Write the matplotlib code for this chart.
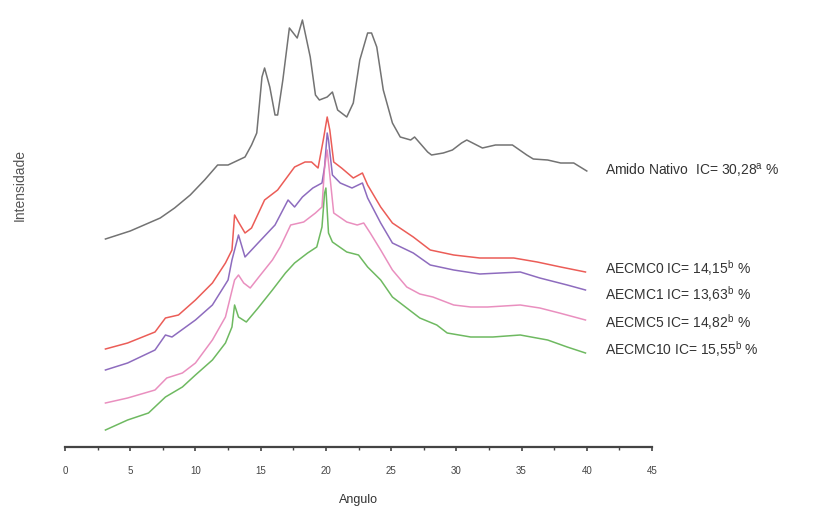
import matplotlib.pyplot as plt
import numpy as np

# angulo (2 theta) e intensidade (unidades arbitrarias)
nativo_x = [3.1, 5.0, 7.3, 8.4, 9.6, 10.7, 11.7, 12.5, 13.8, 14.3, 14.7, 15.1, 15.3, 15.7,
            16.1, 16.3, 16.7, 17.2, 17.8, 18.2, 18.8, 19.2, 19.5, 20.1, 20.5, 20.9, 21.6,
            22.1, 22.6, 23.2, 23.5, 23.9, 24.4, 25.1, 25.7, 26.5, 26.8, 27.8, 28.1, 29.0,
            29.7, 30.4, 30.8, 32.0, 33.0, 34.3, 35.4, 35.9, 37.0, 38.0, 39.0, 40.0]
nativo_y = [208, 216, 229, 239, 252, 267, 282, 282, 290, 302, 314, 370, 379, 360,
            332, 332, 367, 419, 409, 427, 390, 352, 347, 350, 355, 337, 330,
            344, 387, 414, 414, 400, 357, 324, 310, 307, 310, 295, 292, 294,
            297, 304, 307, 299, 302, 302, 292, 288, 287, 284, 284, 276]

aecmc0_x = [3.1, 4.8, 6.9, 7.7, 8.7, 10.0, 11.3, 12.3, 12.8, 13.0, 13.3, 13.8, 14.3, 15.3,
            16.3, 17.6, 18.4, 18.9, 19.4, 19.8, 20.1, 20.3, 20.6, 21.2, 22.1, 22.8, 23.2,
            24.2, 25.1, 26.7, 28.0, 29.8, 31.8, 34.4, 36.2, 38.0, 39.9]
aecmc0_y = [98, 104, 115, 129, 132, 147, 164, 184, 197, 232, 225, 214, 219, 247,
            257, 280, 285, 285, 279, 307, 330, 317, 285, 279, 269, 274, 262,
            240, 224, 210, 197, 192, 189, 189, 185, 180, 175]

aecmc1_x = [3.1, 4.8, 6.9, 7.7, 8.2, 10.0, 11.3, 12.5, 12.8, 13.3, 13.8, 14.8, 16.1, 17.1,
            17.6, 18.2, 19.0, 19.7, 19.9, 20.1, 20.2, 20.5, 21.1, 22.0, 22.8, 23.2, 24.2,
            25.1, 26.7, 28.0, 29.8, 31.8, 34.9, 36.4, 38.5, 39.9]
aecmc1_y = [77, 84, 97, 112, 110, 127, 142, 167, 187, 212, 190, 204, 222, 247,
            240, 250, 259, 264, 280, 314, 307, 272, 264, 259, 264, 249, 224,
            204, 194, 182, 177, 173, 175, 169, 162, 157]

aecmc5_x = [3.1, 4.8, 6.9, 7.8, 9.0, 10.0, 11.3, 12.3, 13.0, 13.3, 13.7, 14.2, 14.8, 15.9,
            16.5, 17.3, 18.3, 19.2, 19.7, 19.9, 20.1, 20.6, 21.6, 22.4, 22.9, 23.4, 24.2,
            25.1, 26.2, 27.2, 28.2, 29.8, 31.1, 32.4, 34.9, 36.4, 37.9, 39.9]
aecmc5_y = [44, 49, 57, 69, 74, 84, 107, 130, 167, 172, 164, 159, 169, 187,
            200, 222, 225, 234, 240, 280, 297, 234, 225, 222, 224, 214, 197,
            177, 160, 153, 150, 142, 140, 140, 142, 139, 134, 127]

aecmc10_x = [3.1, 4.8, 6.4, 7.7, 9.0, 10.0, 11.3, 12.3, 12.8, 13.0, 13.3, 13.9, 14.8, 15.9,
             16.9, 17.6, 18.6, 19.3, 19.7, 19.9, 20.0, 20.2, 20.5, 21.6, 22.5, 23.2, 24.2,
             25.1, 27.2, 28.5, 29.3, 31.1, 32.8, 34.9, 37.0, 38.5, 39.9]
aecmc10_y = [17, 27, 34, 50, 60, 72, 87, 104, 120, 142, 130, 125, 139, 157,
             174, 184, 194, 200, 220, 254, 259, 214, 205, 195, 192, 180, 167,
             150, 129, 122, 114, 110, 110, 112, 107, 100, 94]

series = [
    (nativo_x, nativo_y, '#5a5a5a', r'Amido Nativo  IC= 30,28$^{\mathrm{a}}$ %', 170),
    (aecmc0_x, aecmc0_y, '#e8403a', r'AECMC0 IC= 14,15$^{\mathrm{b}}$ %', 268),
    (aecmc1_x, aecmc1_y, '#7a52b3', r'AECMC1 IC= 13,63$^{\mathrm{b}}$ %', 294),
    (aecmc5_x, aecmc5_y, '#e67cb4', r'AECMC5 IC= 14,82$^{\mathrm{b}}$ %', 322),
    (aecmc10_x, aecmc10_y, '#55ad45', r'AECMC10 IC= 15,55$^{\mathrm{b}}$ %', 349),
]

W, H = 824, 508
fig = plt.figure(figsize=(W / 100, H / 100), dpi=100)
ax = fig.add_axes([65 / W, 1 - 447 / H, (652 - 65) / W, (447 - 10) / H])
plt.rcParams['font.family'] = ['Liberation Sans', 'DejaVu Sans']
plt.rcParams['mathtext.fontset'] = 'custom'
plt.rcParams['mathtext.rm'] = 'Liberation Sans'

for xs, ys, col, lab, ypix in series:
    ax.plot(xs, ys, color=col, lw=1.1, alpha=0.85)
    fig.text(605 / W, 1 - ypix / H, lab, fontsize=10, color='#333333',
             ha='left', va='center', family=['Liberation Sans', 'DejaVu Sans'])

ax.set_xlim(0, 45)
ax.set_ylim(0, 437)
for s in ['left', 'right', 'top']:
    ax.spines[s].set_visible(False)
ax.spines['bottom'].set_color('#444444')
ax.spines['bottom'].set_linewidth(1.6)
ax.set_yticks([])
ax.set_xticks(np.arange(0, 46, 5))
ax.set_xticks(np.arange(2.5, 45, 5), minor=True)
ax.tick_params(axis='x', which='major', direction='out', length=3, width=1.2,
               colors='#444444', labelsize=7, pad=11)
ax.tick_params(axis='x', which='minor', direction='out', length=2, width=1, colors='#444444')
for t in ax.get_xticklabels():
    t.set_family(['Liberation Sans', 'DejaVu Sans'])

fig.text(358 / W, 1 - 500 / H, 'Angulo', fontsize=9, color='#333333', ha='center', va='center',
         family=['Liberation Sans', 'DejaVu Sans'])
fig.text(20 / W, 1 - 185 / H, 'Intensidade', fontsize=10, color='#555555', ha='center',
         va='center', rotation=90, family=['Liberation Sans', 'DejaVu Sans'])

fig.savefig('out.png', dpi=100)
